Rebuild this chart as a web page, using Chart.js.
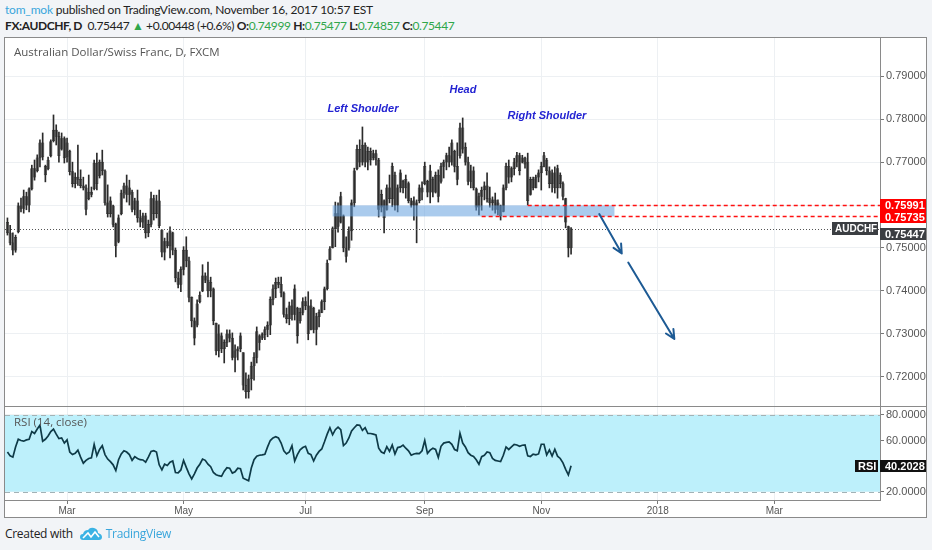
<!DOCTYPE html>
<html>
<head>
<meta charset="utf-8">
<script src="https://cdn.jsdelivr.net/npm/chart.js@4.4.1/dist/chart.umd.min.js"></script>
<style>
  html, body { margin: 0; padding: 0; }
  body { width: 932px; height: 550px; background: #f2f4f7; position: relative; overflow: hidden; font-family: Lato, "Open Sans", sans-serif; color: #222; }
  #h1 { position: absolute; left: 5px; top: 2px; font-size: 12px; letter-spacing: -0.2px; white-space: nowrap; }
  #h2 { position: absolute; left: 5px; top: 18px; font-size: 12px; letter-spacing: -0.4px; white-space: nowrap; }
  #h1 .user { color: #3aa6dc; }
  .g { color: #2fa64a; }
  #box { position: absolute; left: 4px; top: 37px; width: 921px; height: 479px; border: 1px solid #8a8a8a; background: #fff; }
  #chart { position: absolute; left: 0; top: 0; }
  .ttl { position: absolute; left: 9px; font-family: "Open Sans", sans-serif; font-size: 11.5px; color: #555; white-space: nowrap; }
  #footer { position: absolute; left: 5px; top: 525px; font-family: "Open Sans", sans-serif; font-size: 12px; color: #222; white-space: nowrap; display: flex; align-items: center; letter-spacing: -0.3px; }
  #footer .tv { color: #3aa6dc; margin-left: 4px; }
  #footer svg { margin-left: 7px; }
</style>
</head>
<body>
<div id="h1"></div>
<div id="h2"></div>
<div id="box">
  <canvas id="chart" width="921" height="479"></canvas>
  <div class="ttl" style="top:6px">Australian Dollar/Swiss Franc, D, FXCM</div>
  <div class="ttl" style="top:376px">RSI (14, close)</div>
</div>
<div id="footer">Created with
  <svg width="22" height="14" viewBox="0 0 22 14"><path d="M3 13 Q0 13 0 10 Q0 7 3 7 Q4 3 8 3 Q10 0 14 1 Q18 2 18 6 Q22 7 22 10 Q22 13 19 13 Z" fill="#3bb3e4"/><polyline points="3,11 8,6 11,10 15,5 19,10" fill="none" stroke="#fff" stroke-width="1.6"/></svg>
  <span class="tv">TradingView</span></div>
<script>
// daily bars, index 0 = 30 Jan 2017, index 208 = 16 Nov 2017
const opens = [
  .7560,.7535,.7512,.7495,.7538,.7598,.7592,.7620,.7600,.7638,
  .7685,.7680,.7710,.7745,.7690,.7685,.7715,.7750,.7775,.7760,
  .7730,.7755,.7712,.7725,.7678,.7650,.7665,.7660,.7645,.7640,
  .7615,.7630,.7638,.7698,.7668,.7700,.7680,.7605,.7580,.7598,
  .7555,.7515,.7580,.7628,.7645,.7625,.7630,.7590,.7610,.7570,
  .7560,.7575,.7535,.7555,.7615,.7580,.7610,.7542,.7490,.7515,
  .7505,.7535,.7495,.7430,.7415,.7450,.7495,.7470,.7385,.7330,
  .7320,.7375,.7400,.7435,.7425,.7400,.7405,.7325,.7260,.7295,
  .7265,.7280,.7300,.7290,.7245,.7260,.7265,.7256,.7180,.7165,
  .7195,.7225,.7245,.7295,.7290,.7298,.7310,.7320,.7380,.7405,
  .7420,.7415,.7395,.7345,.7335,.7365,.7345,.7360,.7330,.7350,
  .7375,.7365,.7310,.7360,.7310,.7340,.7350,.7375,.7405,.7472,
  .7500,.7545,.7580,.7560,.7575,.7500,.7500,.7540,.7605,.7685,
  .7730,.7700,.7740,.7700,.7725,.7710,.7720,.7705,.7595,.7610,
  .7590,.7640,.7615,.7670,.7600,.7640,.7655,.7640,.7650,.7610,
  .7600,.7605,.7610,.7640,.7650,.7655,.7630,.7660,.7630,.7670,
  .7655,.7690,.7700,.7715,.7700,.7725,.7690,.7715,.7780,.7735,
  .7700,.7655,.7680,.7638,.7595,.7620,.7635,.7645,.7615,.7605,
  .7612,.7590,.7598,.7585,.7640,.7690,.7665,.7685,.7700,.7715,
  .7700,.7710,.7700,.7625,.7660,.7640,.7665,.7675,.7690,.7705,
  .7680,.7650,.7675,.7640,.7670,.7650,.7615,.7550,.74999
];
const highs = [
  .7570,.7553,.7535,.7530,.7605,.7616,.7635,.7630,.7640,.7693,
  .7705,.7717,.7752,.7768,.7693,.7712,.7752,.7810,.7787,.7770,
  .7768,.7759,.7756,.7728,.7700,.7675,.7740,.7682,.7665,.7647,
  .7670,.7642,.7705,.7721,.7705,.7728,.7682,.7647,.7619,.7600,
  .7558,.7577,.7635,.7651,.7670,.7658,.7635,.7616,.7635,.7588,
  .7581,.7581,.7565,.7630,.7623,.7623,.7635,.7542,.7523,.7535,
  .7549,.7537,.7500,.7444,.7456,.7503,.7526,.7479,.7386,.7337,
  .7379,.7398,.7461,.7442,.7467,.7432,.7407,.7325,.7321,.7302,
  .7286,.7309,.7309,.7302,.7274,.7270,.7302,.7256,.7209,.7204,
  .7234,.7256,.7316,.7298,.7302,.7316,.7328,.7386,.7414,.7430,
  .7432,.7432,.7398,.7360,.7374,.7379,.7414,.7362,.7360,.7384,
  .7386,.7398,.7379,.7362,.7348,.7356,.7379,.7409,.7472,.7503,
  .7549,.7607,.7605,.7630,.7577,.7526,.7549,.7612,.7686,.7740,
  .7752,.7782,.7745,.7735,.7733,.7728,.7728,.7709,.7635,.7612,
  .7647,.7670,.7698,.7677,.7647,.7682,.7658,.7670,.7654,.7616,
  .7619,.7612,.7647,.7654,.7700,.7658,.7693,.7665,.7677,.7682,
  .7698,.7705,.7721,.7735,.7752,.7728,.7745,.7791,.7803,.7745,
  .7712,.7693,.7689,.7640,.7628,.7642,.7654,.7675,.7642,.7619,
  .7628,.7612,.7600,.7647,.7698,.7705,.7689,.7709,.7723,.7721,
  .7716,.7712,.7721,.7665,.7665,.7670,.7682,.7700,.7723,.7709,
  .7689,.7682,.7689,.7693,.7675,.7654,.7616,.7551,.75477
];
const lows = [
  .7530,.7507,.7484,.7490,.7535,.7584,.7581,.7589,.7584,.7635,
  .7658,.7677,.7689,.7705,.7654,.7682,.7712,.7747,.7740,.7700,
  .7728,.7698,.7700,.7670,.7642,.7640,.7646,.7640,.7635,.7577,
  .7612,.7619,.7635,.7635,.7663,.7670,.7600,.7572,.7572,.7549,
  .7479,.7512,.7577,.7616,.7607,.7600,.7584,.7577,.7560,.7549,
  .7547,.7523,.7526,.7549,.7565,.7570,.7547,.7479,.7472,.7500,
  .7477,.7484,.7421,.7407,.7398,.7437,.7456,.7374,.7316,.7274,
  .7316,.7372,.7398,.7419,.7386,.7386,.7321,.7251,.7246,.7256,
  .7232,.7270,.7281,.7239,.7211,.7239,.7258,.7169,.7150,.7150,
  .7169,.7192,.7232,.7262,.7286,.7286,.7293,.7298,.7367,.7384,
  .7407,.7386,.7339,.7325,.7321,.7332,.7332,.7278,.7325,.7344,
  .7356,.7286,.7309,.7302,.7274,.7316,.7349,.7356,.7402,.7472,
  .7500,.7503,.7537,.7558,.7491,.7467,.7495,.7518,.7596,.7682,
  .7689,.7693,.7689,.7682,.7693,.7705,.7693,.7572,.7584,.7535,
  .7588,.7605,.7596,.7588,.7584,.7630,.7628,.7616,.7605,.7595,
  .7565,.7512,.7605,.7612,.7647,.7619,.7605,.7619,.7628,.7607,
  .7651,.7663,.7682,.7689,.7693,.7677,.7647,.7709,.7721,.7693,
  .7647,.7640,.7635,.7588,.7577,.7588,.7612,.7607,.7595,.7588,
  .7581,.7577,.7565,.7584,.7635,.7651,.7654,.7670,.7689,.7670,
  .7698,.7686,.7600,.7623,.7635,.7640,.7654,.7635,.7689,.7670,
  .7640,.7630,.7628,.7616,.7640,.7612,.7547,.7479,.74857
];
const closes = [
  .7535,.7512,.7495,.7525,.7598,.7592,.7620,.7600,.7638,.7685,
  .7665,.7710,.7745,.7712,.7670,.7705,.7748,.7775,.7760,.7715,
  .7755,.7710,.7745,.7678,.7650,.7665,.7660,.7645,.7640,.7590,
  .7630,.7625,.7698,.7650,.7700,.7680,.7605,.7580,.7610,.7555,
  .7505,.7570,.7628,.7645,.7625,.7640,.7590,.7610,.7570,.7560,
  .7575,.7535,.7555,.7615,.7580,.7610,.7552,.7490,.7515,.7505,
  .7540,.7495,.7430,.7415,.7450,.7495,.7470,.7385,.7330,.7290,
  .7370,.7390,.7435,.7425,.7400,.7420,.7330,.7260,.7300,.7265,
  .7280,.7300,.7290,.7245,.7260,.7265,.7295,.7180,.7165,.7195,
  .7225,.7245,.7305,.7280,.7298,.7310,.7320,.7380,.7405,.7420,
  .7415,.7395,.7345,.7335,.7365,.7345,.7405,.7295,.7350,.7375,
  .7365,.7300,.7365,.7310,.7340,.7350,.7375,.7405,.7465,.7498,
  .7545,.7580,.7550,.7620,.7500,.7480,.7540,.7605,.7680,.7730,
  .7700,.7740,.7700,.7725,.7705,.7720,.7705,.7590,.7625,.7570,
  .7640,.7615,.7690,.7600,.7640,.7675,.7640,.7660,.7610,.7600,
  .7610,.7600,.7640,.7630,.7690,.7630,.7680,.7630,.7670,.7620,
  .7690,.7700,.7715,.7700,.7745,.7690,.7660,.7780,.7730,.7700,
  .7655,.7680,.7640,.7595,.7620,.7635,.7645,.7615,.7605,.7612,
  .7590,.7605,.7575,.7640,.7690,.7665,.7685,.7700,.7715,.7680,
  .7710,.7695,.7610,.7660,.7640,.7665,.7675,.7690,.7715,.7680,
  .7650,.7675,.7640,.7685,.7650,.7620,.7560,.74999,.75447
];
const rsi = [
  51,48,47,55,61,60,59.5,60.5,61,67,
  65.5,69,72,59.5,61,63.5,67,69,65,61.5,
  62,58,60.5,51,49,50,52.5,47,42.3,44.5,
  46,46.5,57,48.2,53,56,49,45.5,43.5,41,
  36.5,45,49.5,52,51,49,44.5,47.4,46,45,
  44.8,43,47,51.5,52,51,41,37,41.5,40.5,
  43,44,35,34.8,37,44.5,39,34,30,34,
  38.5,41.5,45.5,44.5,41.5,39.5,35,33.3,32.5,32,
  36,38.8,38.4,34.5,35.5,38.4,38,30.5,29.5,28.5,
  38.5,45,47.8,48.5,48.8,49.3,55,60,62,63,
  62,58,52,49.5,51,56,44,49,52.7,54.5,
  55.5,50,49,44,48.5,51.5,53.4,59,65,70,
  64.5,68.5,70.5,68.5,56,58,62,67.5,70,72.2,
  72,68,70,65.5,65.5,65,64.4,54,51,50,
  55.2,51.5,56.5,49.5,54.5,55,56.4,54,52,48.5,
  49.5,50,49.8,52,60,50,52.5,54,53,46.7,
  55.5,58,58.5,59,57,53,52,65.7,58,55,
  50.5,48.5,47.5,45,41.5,47.4,48.5,51,50.5,46,
  44.5,44,43.5,48.5,55,53,55,57,56.5,55.5,
  56.3,56.6,48,47.5,49.3,48.8,49.5,57.1,57.1,48.8,
  52.7,47.8,53.2,47.8,46,42.5,37.5,33.1,40.2028
];

// time axis: bar index of the first bar of each labelled month
const monthTickIdx = [22, 65, 110, 154, 197, 240, 283];
const monthLabels = ['Mar', 'May', 'Jul', 'Sep', 'Nov', '2018', 'Mar'];
const xRange = [-0.9, 322];

const priceTicks = [0.72, 0.73, 0.74, 0.75, 0.76, 0.77, 0.78, 0.79];
const priceRange = [0.71317, 0.79893];
const rsiTicks = [20, 40, 60, 80];
const rsiRange = [13.5, 87];
const rsiBand = [20, 80];

// drawings on the chart
const levels = [
  { price: 0.75991, from: 192 },
  { price: 0.75735, from: 175 }
];
const zone = { from: 120, to: 224, hi: 0.75991, lo: 0.75735 };
const arrows = [
  { x1: 218.4, y1: 0.7579, x2: 226.7, y2: 0.7487 },
  { x1: 229.1, y1: 0.7466, x2: 246.1, y2: 0.7288 }
];
const notes = [
  { text: 'Left Shoulder', x: 131.2, y: 0.7824 },
  { text: 'Head', x: 168.1, y: 0.7868 },
  { text: 'Right Shoulder', x: 199.1, y: 0.7807 }
];

const last = closes.length - 1;
const chg = closes[last] - closes[last - 1];
document.getElementById('h1').innerHTML =
  '<span class="user">tom_mok</span> published on TradingView.com, November 16, 2017 10:57 EST';
document.getElementById('h2').innerHTML =
  '<b>FX:AUDCHF, D</b>&nbsp; ' + closes[last].toFixed(5) + ' <span class="g">&#9650;</span> +' +
  chg.toFixed(5) + ' (+' + (chg / closes[last - 1] * 100).toFixed(1) + '%) ' +
  '<b>O:</b><span class="g">' + opens[last].toFixed(5) + '</span> ' +
  '<b>H:</b><span class="g">' + highs[last].toFixed(5) + '</span> ' +
  '<b>L:</b><span class="g">' + lows[last].toFixed(5) + '</span> ' +
  '<b>C:</b><span class="g">' + closes[last].toFixed(5) + '</span>';

function tag(ctx, x, yc, w, h, bg, text, pad) {
  ctx.fillStyle = bg;
  ctx.fillRect(x, Math.round(yc - h / 2), w, h);
  ctx.fillStyle = '#fff';
  ctx.textBaseline = 'middle';
  ctx.textAlign = 'left';
  ctx.fillText(text, x + (pad || 5), Math.round(yc) + 0.5);
}

const overlay = {
  id: 'overlay',
  beforeDatasetsDraw(chart) {
    const { ctx, chartArea: a, scales } = chart;
    const r = scales.rsi;
    const yTop = r.getPixelForValue(rsiBand[1]);
    const yBot = r.getPixelForValue(rsiBand[0]);
    ctx.save();
    ctx.fillStyle = '#bdf0fb';
    ctx.fillRect(a.left, yTop, a.width, yBot - yTop);
    ctx.strokeStyle = '#a2b2b6';
    ctx.lineWidth = 1;
    ctx.setLineDash([5, 4]);
    [yTop, yBot].forEach(py => {
      ctx.beginPath();
      ctx.moveTo(a.left, Math.round(py) + 0.5);
      ctx.lineTo(a.right, Math.round(py) + 0.5);
      ctx.stroke();
    });
    ctx.restore();
  },
  afterDatasetsDraw(chart) {
    const { ctx, chartArea: a, scales } = chart;
    const x = scales.x, y = scales.y;
    ctx.save();

    // last price dotted line
    const py = Math.round(y.getPixelForValue(closes[last])) + 0.5;
    ctx.strokeStyle = '#555';
    ctx.lineWidth = 1;
    ctx.setLineDash([1, 2]);
    ctx.beginPath();
    ctx.moveTo(a.left, py);
    ctx.lineTo(a.right, py);
    ctx.stroke();

    // neckline zone
    const zx1 = x.getPixelForValue(zone.from), zx2 = x.getPixelForValue(zone.to);
    const zy1 = y.getPixelForValue(zone.hi), zy2 = y.getPixelForValue(zone.lo);
    ctx.fillStyle = 'rgba(100, 160, 222, 0.55)';
    ctx.fillRect(zx1, zy1, zx2 - zx1, zy2 - zy1);

    // red dashed levels
    ctx.strokeStyle = '#ff1010';
    ctx.lineWidth = 1.3;
    ctx.setLineDash([4, 3]);
    levels.forEach(l => {
      const ly = Math.round(y.getPixelForValue(l.price)) + 0.5;
      ctx.beginPath();
      ctx.moveTo(x.getPixelForValue(l.from), ly);
      ctx.lineTo(a.right, ly);
      ctx.stroke();
    });

    // arrows
    ctx.setLineDash([]);
    ctx.strokeStyle = '#1d5a94';
    ctx.lineWidth = 2;
    ctx.lineCap = 'round';
    arrows.forEach(ar => {
      const x1 = x.getPixelForValue(ar.x1), y1 = y.getPixelForValue(ar.y1);
      const x2 = x.getPixelForValue(ar.x2), y2 = y.getPixelForValue(ar.y2);
      const ang = Math.atan2(y2 - y1, x2 - x1);
      ctx.beginPath();
      ctx.moveTo(x1, y1);
      ctx.lineTo(x2, y2);
      [-0.45, 0.45].forEach(d => {
        ctx.moveTo(x2, y2);
        ctx.lineTo(x2 - 10 * Math.cos(ang + d), y2 - 10 * Math.sin(ang + d));
      });
      ctx.stroke();
    });

    // pattern labels
    ctx.fillStyle = '#2323d2';
    ctx.font = 'italic bold 11px "Liberation Sans", Arial, sans-serif';
    ctx.textAlign = 'center';
    ctx.textBaseline = 'middle';
    notes.forEach(n => ctx.fillText(n.text, x.getPixelForValue(n.x), y.getPixelForValue(n.y)));
    ctx.restore();
  },
  afterDraw(chart) {
    const { ctx, chartArea: a, scales } = chart;
    const y = scales.y, r = scales.rsi;
    ctx.save();
    // pane separator
    ctx.strokeStyle = '#8a8a8a';
    ctx.lineWidth = 1;
    ctx.beginPath();
    ctx.moveTo(a.left, Math.round(r.top) + 0.5);
    ctx.lineTo(chart.width, Math.round(r.top) + 0.5);
    ctx.stroke();

    ctx.font = 'bold 11px "Liberation Sans", Arial, sans-serif';
    const w = chart.width - a.right, h = 12;
    let bottom = -Infinity;
    levels.forEach(l => {
      let yc = y.getPixelForValue(l.price);
      if (yc - h / 2 < bottom) yc = bottom + h / 2;
      tag(ctx, a.right, yc, w, h, '#ff0000', l.price.toFixed(5));
      bottom = Math.round(yc - h / 2) + h;
    });
    const lp = y.getPixelForValue(closes[last]);
    const lc = Math.max(lp, bottom + 5 + h / 2);
    tag(ctx, a.right, lc, w, h, '#3b3e42', closes[last].toFixed(5));
    ctx.font = 'bold 10px "Liberation Sans", Arial, sans-serif';
    tag(ctx, a.right - 48, lp, 46, 13, '#3b3e42', 'AUDCHF', 3);

    const rv = rsi[last];
    const rp = r.getPixelForValue(rv);
    ctx.font = 'bold 11px "Liberation Sans", Arial, sans-serif';
    tag(ctx, a.right, rp, w, h, '#111', rv.toFixed(4));
    tag(ctx, a.right - 25, rp, 23, h, '#111', 'RSI', 3);
    ctx.restore();
  }
};

const axisFont = { family: '"Liberation Sans", Arial, sans-serif', size: 11 };
// keep the panes flush with the canvas edges
const noPadY = s => { s.width = 46; s.paddingTop = 0; s.paddingBottom = 0; };

new Chart(document.getElementById('chart'), {
  type: 'bar',
  data: {
    datasets: [
      {
        label: 'range',
        data: lows.map((l, i) => ({ x: i, y: [l, highs[i]] })),
        yAxisID: 'y',
        barThickness: 1,
        backgroundColor: '#2b2b2b',
        grouped: false,
        order: 1
      },
      {
        label: 'body',
        data: opens.map((o, i) => ({ x: i, y: [o, closes[i]] })),
        yAxisID: 'y',
        barThickness: 2.6,
        backgroundColor: '#9a9a9a',
        borderColor: '#333',
        borderWidth: 0.5,
        borderSkipped: false,
        grouped: false,
        order: 2
      },
      {
        type: 'line',
        label: 'RSI',
        data: rsi.map((v, i) => ({ x: i, y: v })),
        yAxisID: 'rsi',
        borderColor: '#0e3a47',
        borderWidth: 1.7,
        pointRadius: 0,
        tension: 0,
        order: 0
      }
    ]
  },
  options: {
    responsive: false,
    animation: false,
    layout: { padding: 0 },
    plugins: { legend: { display: false }, tooltip: { enabled: false } },
    scales: {
      x: {
        type: 'linear',
        min: xRange[0],
        max: xRange[1],
        offset: false,
        afterBuildTicks: s => { s.ticks = monthTickIdx.map(v => ({ value: v })); },
        afterFit: s => { s.height = 17; s.paddingLeft = 0; s.paddingRight = 0; },
        grid: { color: '#edf0f3', offset: false, tickLength: 4, tickColor: '#777' },
        border: { display: true, color: '#8a8a8a' },
        ticks: {
          autoSkip: false, maxRotation: 0, padding: 1, color: '#555',
          font: { family: '"Liberation Sans", Arial, sans-serif', size: 10 },
          callback: (v, i) => monthLabels[i]
        }
      },
      y: {
        type: 'linear',
        position: 'right',
        stack: 'pane',
        stackWeight: 368,
        min: priceRange[0],
        max: priceRange[1],
        afterBuildTicks: s => { s.ticks = priceTicks.map(v => ({ value: v })); },
        afterFit: noPadY,
        grid: { color: '#edf0f3', tickLength: 4, tickColor: '#777' },
        border: { display: true, color: '#8a8a8a' },
        ticks: { padding: 2, color: '#555', font: axisFont, callback: v => v.toFixed(5) }
      },
      rsi: {
        type: 'linear',
        position: 'right',
        stack: 'pane',
        stackWeight: 94,
        min: rsiRange[0],
        max: rsiRange[1],
        afterBuildTicks: s => { s.ticks = rsiTicks.map(v => ({ value: v })); },
        afterFit: noPadY,
        grid: { color: 'rgba(0,0,0,0.05)', tickLength: 4, tickColor: '#777' },
        border: { display: true, color: '#8a8a8a' },
        ticks: { padding: 2, color: '#555', font: axisFont, callback: v => v.toFixed(4) }
      }
    }
  },
  plugins: [overlay]
});
</script>
</body>
</html>
